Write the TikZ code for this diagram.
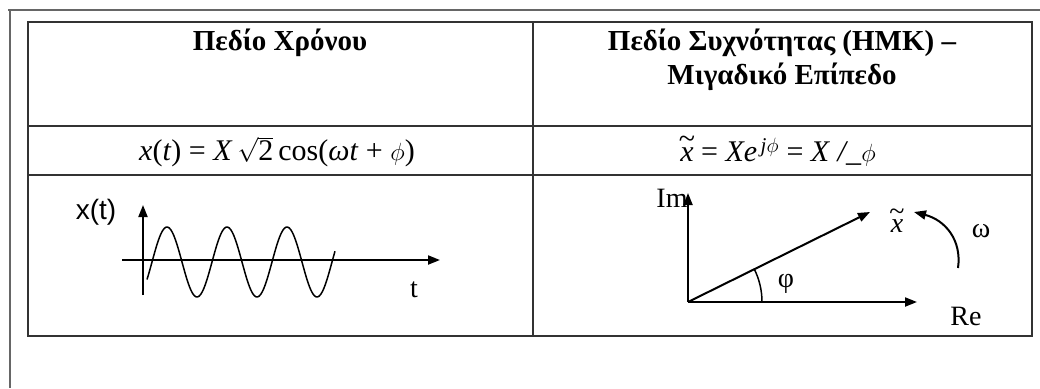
\documentclass[tikz,border=0pt]{standalone}
\usepackage{fontspec}
\setmainfont{Liberation Serif}
\setsansfont{Liberation Sans}
\usetikzlibrary{arrows.meta, positioning, calc}

\newcommand{\tildex}{\ooalign{\textit{x}\cr\hidewidth\raisebox{0.42em}{\textasciitilde}\hidewidth\cr}}

\tikzset{
  rule/.style={line width=1.6pt, draw=black!80},
  frame/.style={line width=1.4pt, draw=black!60},
  axis/.style={line width=2pt, -{Triangle[length=12pt,width=9pt]}},
  wave/.style={line width=1.5pt},
  head/.style={font=\fontsize{29}{34}\selectfont\bfseries, align=center, inner sep=0pt},
  formula/.style={font=\fontsize{30}{34}\selectfont, inner sep=0pt},
  lbl/.style={font=\fontsize{28}{32}\selectfont, inner sep=0pt}
}

\begin{document}
\begin{tikzpicture}[x=1pt, y=-1pt]
\useasboundingbox (0,0) rectangle (1040,388);

% page frame
\draw[frame] (8,10) -- (1040,10);
\draw[frame] (10,10) -- (10,388);

% table
\draw[rule] (28,22) rectangle (1032,336);
\draw[rule] (533,22) -- (533,336);
\draw[rule] (28,126) -- (1032,126);
\draw[rule] (28,175) -- (1032,175);

% headers
\node[head] (timehead) at (280,43) {Πεδίο Χρόνου};
\node[head] (freqhead) at (782,60) {Πεδίο Συχνότητας (ΗΜΚ) –\\Μιγαδικό Επίπεδο};

% formulas
\node[formula] (timeeq) at (277,152)
  {\textit{x}(\textit{t}) = \textit{X}\,$\sqrt{\mbox{2}}$\,cos(\textit{ωt} + $\phi$)};
\node[formula] (freqeq) at (778,152)
  {\tildex\ = \textit{Xe}\textsuperscript{\,\textit{j}$\phi$}\ = \textit{X}\ \textit{/\_}$\phi$};

% time domain
\coordinate (tstart) at (122,260);
\coordinate (tend) at (440,260);
\coordinate (xbot) at (143,295);
\coordinate (xtop) at (143,205);
\draw[axis] (tstart) -- (tend);
\draw[axis] (xbot) -- (xtop);
\draw[wave] plot[domain=147:335, samples=120] (\x, {262-35*sin(6*(\x-152))});
\node[lbl, font=\fontsize{28}{32}\selectfont\sffamily] (xlab) at (96,212) {x(t)};
\node[lbl] (tlab) at (414,290) {t};

% complex plane
\coordinate (O) at (688,302);
\coordinate (imtip) at (688,193);
\coordinate (retip) at (917,302);
\coordinate (xtip) at (870,212);
\draw[axis] (O) -- (imtip);
\draw[axis] (O) -- (retip);
\draw[axis] (O) -- (xtip);
\draw[wave] (762,302) arc[start angle=0, end angle=27, radius=74pt];
\coordinate (wstart) at (958,268);
\coordinate (wend) at (914,212);
\draw[axis] (wstart) .. controls (962,240) and (945,220) .. (wend);
\node[lbl] (imlab) at (672,198) {Im};
\node[lbl] (relab) at (966,316) {Re};
\node[lbl] (phasorlab) at (897,226) {\tildex};
\node[lbl] (philab) at (786,284) {φ};
\node[lbl] (omegalab) at (981,231) {ω};
\end{tikzpicture}
\end{document}
